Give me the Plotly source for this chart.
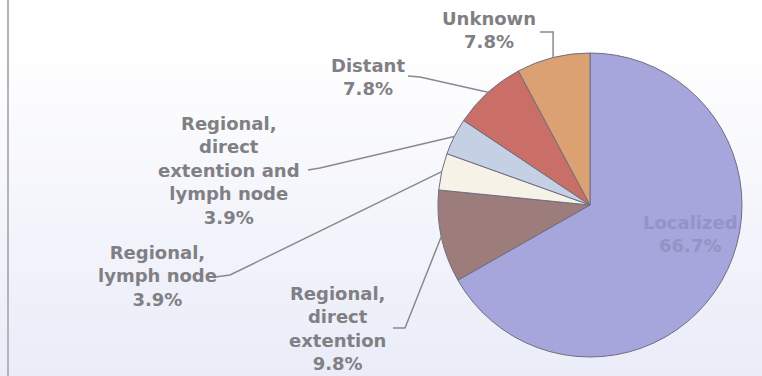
import math
import plotly.graph_objects as go

W, H = 762, 376

# Stage distribution (clockwise from 12 o'clock)
stages = [
    "Localized",
    "Regional, direct extention",
    "Regional, lymph node",
    "Regional, direct extention and lymph node",
    "Distant",
    "Unknown",
]
stage_text = [
    "Localized",
    "Regional,<br>direct<br>extention",
    "Regional,<br>lymph node",
    "Regional,<br>direct<br>extention and<br>lymph node",
    "Distant",
    "Unknown",
]
percent = [66.7, 9.8, 3.9, 3.9, 7.8, 7.8]
colors = ["#a6a5dc", "#9d7d7b", "#f6f2e8", "#c6d0e4", "#c96f68", "#dca173"]

# Pie placement in pixels
PIE_CX, PIE_CY, PIE_R = 590, 205, 152

# Label centres (px) and leader-line starting points (px) for outside labels
label_pos = {
    "Localized": (690, 234),
    "Regional, direct extention": (337, 328),
    "Regional, lymph node": (157, 276),
    "Regional, direct extention and lymph node": (229, 170),
    "Distant": (368, 77),
    "Unknown": (489, 30),
}
leader_start = {
    "Regional, direct extention": [(393, 328), (405, 328)],
    "Regional, lymph node": [(215, 277), (230, 275)],
    "Regional, direct extention and lymph node": [(308, 170), (320, 168)],
    "Distant": [(408, 76), (420, 77)],
    "Unknown": [(540, 32), None],
}


def px(x, y):
    return x / W, 1 - y / H


fig = go.Figure()

fig.add_trace(go.Pie(
    labels=stages,
    values=percent,
    sort=False,
    direction="clockwise",
    rotation=0,
    textinfo="none",
    hoverinfo="label+percent",
    marker=dict(colors=colors, line=dict(color="#6e6e80", width=1)),
    domain=dict(
        x=[(PIE_CX - PIE_R) / W, (PIE_CX + PIE_R) / W],
        y=[1 - (PIE_CY + PIE_R) / H, 1 - (PIE_CY - PIE_R) / H],
    ),
    showlegend=False,
))

shapes = []

# soft white-to-lavender backdrop
n_bands = 40
top_rgb = (255, 255, 255)
bot_rgb = (234, 236, 248)
for i in range(n_bands):
    t = i / (n_bands - 1)
    t = max(0.0, (t - 0.1) / 0.9)
    c = tuple(round(a + (b - a) * t) for a, b in zip(top_rgb, bot_rgb))
    y0 = H * i / n_bands
    y1 = H * (i + 1) / n_bands + 1
    shapes.append(dict(
        type="rect", xref="paper", yref="paper", layer="below",
        x0=0, x1=1, y0=1 - y1 / H, y1=1 - y0 / H,
        fillcolor=f"rgb{c}", line=dict(width=0),
    ))

# thin frame line on the left
shapes.append(dict(
    type="line", xref="paper", yref="paper",
    x0=8 / W, x1=8 / W, y0=0, y1=1,
    line=dict(color="#b4b4b8", width=2),
))

# leader lines from each outside label to the middle of its slice edge
total = sum(percent)
cum = 0.0
edge = {}
for name, v in zip(stages, percent):
    mid = (cum + v / 2) / total * 2 * math.pi
    edge[name] = (PIE_CX + PIE_R * math.sin(mid), PIE_CY - PIE_R * math.cos(mid))
    cum += v

for name, pts in leader_start.items():
    ex, ey = edge[name]
    p0, p1 = pts
    if p1 is None:
        p1 = (ex, p0[1])
    path_pts = [p0, p1, (ex, ey)]
    d = "M " + " L ".join(f"{px(x, y)[0]:.5f},{px(x, y)[1]:.5f}" for x, y in path_pts)
    shapes.append(dict(
        type="path", xref="paper", yref="paper", path=d,
        line=dict(color="#8a8a8e", width=1.5),
    ))

annotations = []
for name, txt, v in zip(stages, stage_text, percent):
    x, y = label_pos[name]
    ax, ay = px(x, y)
    inside = name == "Localized"
    annotations.append(dict(
        x=ax, y=ay, xref="paper", yref="paper",
        text=f"{txt}<br>{v:.1f}%",
        showarrow=False, align="center",
        xanchor="center", yanchor="middle",
        font=dict(family="DejaVu Sans", size=18, weight="bold",
                  color="#9393c4" if inside else "#808084"),
    ))

fig.update_layout(
    width=W, height=H,
    margin=dict(l=0, r=0, t=0, b=0),
    paper_bgcolor="white",
    plot_bgcolor="white",
    shapes=shapes,
    annotations=annotations,
)

fig.write_html("out.html")
